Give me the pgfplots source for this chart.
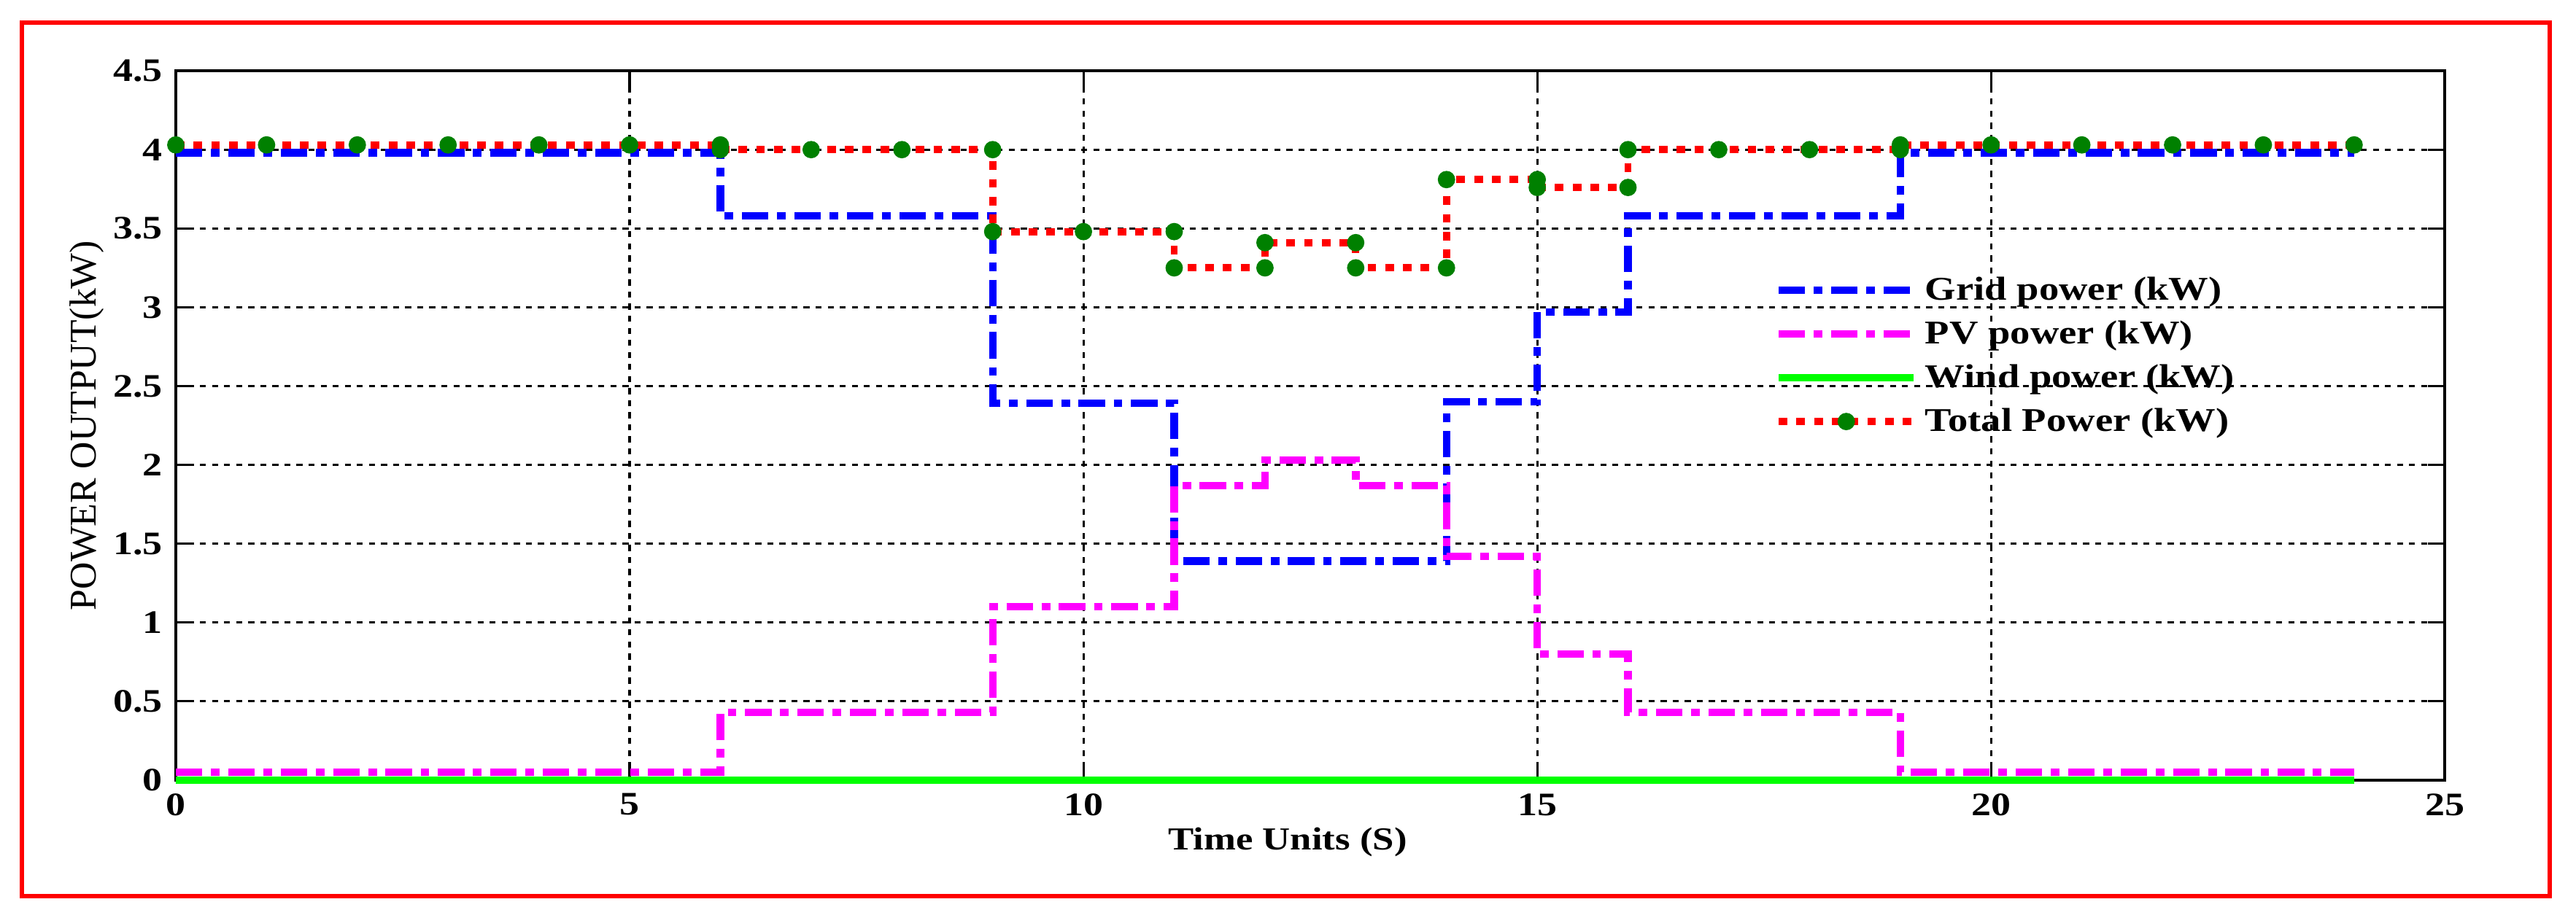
\documentclass[border=0pt]{standalone}
\usepackage{fontspec}
\setmainfont{Liberation Serif}
\newfontfamily\sfont[FakeStretch=1.2]{Liberation Serif}
\usepackage{pgfplots}
\pgfplotsset{compat=1.18}
\definecolor{mgreen}{rgb}{0,0.5,0}
\definecolor{lgreen}{rgb}{0,1,0}
\definecolor{mmag}{rgb}{1,0,1}
\definecolor{mblue}{rgb}{0,0,1}
\definecolor{mred}{rgb}{1,0,0}
\begin{document}
\begin{tikzpicture}
\path[use as bounding box] (0,0) rectangle (24,8.557);
\draw[mred, line width=1.3pt] (0.204,0.204) rectangle (23.755,8.346);
\begin{axis}[
  at={(1.638cm,1.284cm)}, anchor=south west,
  scale only axis, width=21.14cm, height=6.613cm,
  xmin=0, xmax=25, ymin=0, ymax=4.5,
  xtick={0,5,...,25}, ytick={0,0.5,...,4.5},
  /pgf/number format/assume math mode=true,
  ticklabel style={font=\sfont\bfseries\fontsize{8.7}{10}\selectfont},
  tick align=inside, major tick length=0.16cm,
  tick style={black, line width=0.6pt},
  axis line style={black, line width=0.8pt},
  grid=major,
  major grid style={black, line width=0.6pt, dash pattern=on 1.6pt off 1.6pt},
  clip=false,
  xlabel={Time Units (S)},
  ylabel={POWER OUTPUT(kW)},
  xlabel style={at={(axis description cs:0.49,-0.0874)}, anchor=center, font=\sfont\bfseries\fontsize{8.5}{10}\selectfont},
  ylabel style={at={(axis description cs:-0.0393,0.5)}, anchor=center, font=\fontsize{10}{12}\selectfont},
  legend style={at={(axis cs:17.61,3.22)}, anchor=north west, draw=none, fill=none, inner sep=0pt,
    font=\sfont\bfseries\fontsize{8.8}{11}\selectfont, row sep=2.6pt,
    nodes={inner ysep=0pt, text height=7pt, text depth=2pt}},
  legend cell align=left,
  legend image code/.code={\draw[mark repeat=2,mark phase=2,#1] plot coordinates {(0cm,0cm) (0.63cm,0cm) (1.26cm,0cm)};},
]
\addplot[color=mblue, line width=2pt, dash pattern=on 7pt off 2.3pt on 2.3pt off 2.3pt, mark=none]
coordinates {(0,3.98)(6,3.98)(6,3.58)(9,3.58)(9,2.39)(11,2.39)(11,1.39)(14,1.39)(14,2.4)(15,2.4)(15,2.97)(16,2.97)(16,3.58)(19,3.58)(19,3.98)(24,3.98)};
\addlegendentry{Grid power (kW)}
\addplot[color=mmag, line width=2pt, dash pattern=on 7pt off 2.3pt on 2.3pt off 2.3pt, mark=none]
coordinates {(0,0.05)(6,0.05)(6,0.43)(9,0.43)(9,1.1)(11,1.1)(11,1.87)(12,1.87)(12,2.03)(13,2.03)(13,1.87)(14,1.87)(14,1.42)(15,1.42)(15,0.8)(16,0.8)(16,0.43)(19,0.43)(19,0.05)(24,0.05)};
\addlegendentry{PV power (kW)}
\addplot[color=lgreen, line width=2pt, mark=none]
coordinates {(0,0)(24,0)};
\addlegendentry{Wind power (kW)}
\addplot[color=mred, line width=1.9pt, dash pattern=on 2.3pt off 2.4pt, mark=*, mark size=2.1pt, mark options={solid, draw=mgreen, fill=mgreen, line width=0.4pt}]
coordinates {(0,4.03)(1,4.03)(2,4.03)(3,4.03)(4,4.03)(5,4.03)(6,4.03)(6,4.0)(7,4.0)(8,4.0)(9,4.0)(9,3.48)(10,3.48)(11,3.48)(11,3.25)(12,3.25)(12,3.41)(13,3.41)(13,3.25)(14,3.25)(14,3.81)(15,3.81)(15,3.76)(16,3.76)(16,4.0)(17,4.0)(18,4.0)(19,4.0)(19,4.03)(20,4.03)(21,4.03)(22,4.03)(23,4.03)(24,4.03)};
\addlegendentry{Total Power (kW)}
\end{axis}
\end{tikzpicture}
\end{document}
